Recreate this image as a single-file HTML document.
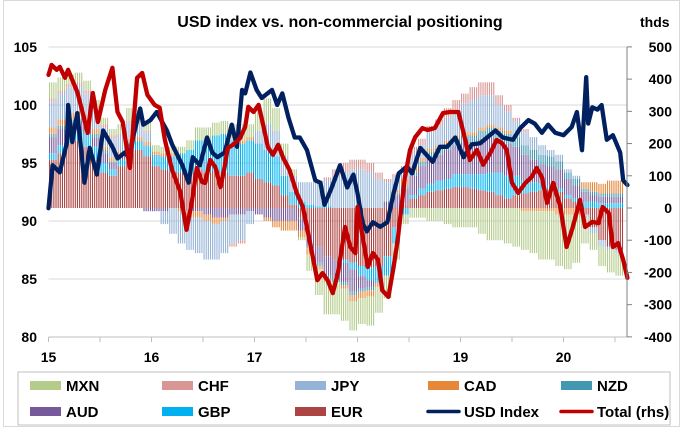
<!DOCTYPE html>
<html><head><meta charset="utf-8"><style>
html,body{margin:0;padding:0;background:#fff;}
svg{display:block;font-family:"Liberation Sans",sans-serif;}
</style></head><body>
<svg id="chart" width="683" height="438" viewBox="0 0 683 438" xmlns="http://www.w3.org/2000/svg">
<rect x="0" y="0" width="683" height="438" fill="#fff"/>
<rect x="3.5" y="0.5" width="676" height="426" fill="none" stroke="#d9d9d9"/>
<text x="340" y="27" text-anchor="middle" font-size="16" font-weight="bold" fill="#000">USD index vs. non-commercial positioning</text>
<text x="640" y="27" font-size="14" font-weight="bold" fill="#000">thds</text>
<g id="grid"></g>
<g id="bars"></g>
<g id="lines"></g>
<g id="axes"></g>
<g>
<rect x="18" y="372" width="652" height="53" fill="#fff" stroke="#bfbfbf"/>
<g font-size="15" font-weight="bold" fill="#000">
<g><rect x="30" y="381" width="31" height="9" fill="#b3cc8c"/><text x="66" y="391">MXN</text></g>
<g><rect x="162" y="381" width="31" height="9" fill="#d99694"/><text x="198" y="391">CHF</text></g>
<g><rect x="295" y="381" width="31" height="9" fill="#95b3d7"/><text x="331" y="391">JPY</text></g>
<g><rect x="428" y="381" width="31" height="9" fill="#e6873a"/><text x="464" y="391">CAD</text></g>
<g><rect x="561" y="381" width="31" height="9" fill="#4198b0"/><text x="597" y="391">NZD</text></g>
<g><rect x="30" y="407" width="31" height="9" fill="#76599a"/><text x="66" y="417">AUD</text></g>
<g><rect x="162" y="407" width="31" height="9" fill="#00b0f0"/><text x="198" y="417">GBP</text></g>
<g><rect x="295" y="407" width="31" height="9" fill="#ab4442"/><text x="331" y="417">EUR</text></g>
<g><line x1="428" y1="411.5" x2="459" y2="411.5" stroke="#002060" stroke-width="3.5" stroke-linecap="round"/><text x="464" y="417">USD Index</text></g>
<g><line x1="561" y1="411.5" x2="592" y2="411.5" stroke="#c00000" stroke-width="3.5" stroke-linecap="round"/><text x="597" y="417">Total (rhs)</text></g>
</g></g>
</svg>
<script>
// monthly positioning data, Jan 2015 .. Jul 2020 (thds)
const EUR=[150,170,200,210,190,150,110,100,130,170,180,160, 130,120,110,110,110,120,110,115,110,100,100,110, 90,80,70,40,10,-30,-80,-120,-150,-160,-160,-170, -180,-185,-180,-150,-60,10,30,40,50,55,60,65, 65,60,55,50,40,30,40,45,50,55,60,50, 30,20,-20,-60,-100,-120,-130];
const GBP=[20,25,25,30,40,40,30,20,20,20,25,30, 30,40,50,60,70,90,100,110,120,110,100,100, 110,100,90,60,40,20,10,5,5,0,-10,-20, -30,-40,-50,-60,-50,-20,10,20,25,30,30,40, 40,45,50,60,70,70,60,40,30,20,10,10, 10,10,20,20,15,15,15];
const AUD=[50,50,40,30,30,30,30,20,10,10,0,-10, -10,-10,0,0,-10,-10,-20,-30,-30,-20,-20,-10, -20,-30,-40,-40,-40,-40,-40,-50,-60,-60,-60,-70, -40,-20,0,20,40,50,60,70,80,80,90,90, 100,100,110,110,100,100,90,80,70,60,60,60, 50,40,30,20,20,20,20];
const NZD=[10,10,10,10,10,10,10,5,5,5,5,5, 5,0,0,0,0,0,0,0,0,0,0,0, 0,0,0,0,0,0,-5,-10,-10,-10,-10,-10, -10,-10,-5,0,5,10,10,15,20,20,20,20, 20,20,25,30,30,30,30,30,30,30,30,25, 20,20,10,10,10,10,10];
const CAD=[20,20,20,20,15,15,10,10,10,10,10,10, 10,10,10,-10,-20,-20,-20,-20,-10,0,10,10, 0,-10,-20,-30,-30,-20,-20,-10,-10,0,-10,-20, -20,-20,-10,0,10,20,20,10,10,10,10,10, 10,10,10,10,10,10,0,-10,-10,-10,-10,-20, -20,-20,20,30,30,40,40];
const JPY=[80,80,80,80,70,60,60,60,50,50,40,30, 0,-40,-80,-100,-100,-110,-120,-110,-100,-90,-80,-40, 40,80,80,60,50,60,70,80,80,100,110,120, 120,110,90,60,40,30,40,40,50,60,70,80, 90,100,100,90,70,60,50,40,40,30,20,20, 10,10,-10,-20,-20,-10,-10];
const CHF=[10,10,10,10,10,10,10,10,5,5,5,5, 0,0,0,0,0,0,0,0,0,-10,-10,0, 0,0,0,0,0,0,0,0,10,20,30,30, 30,30,20,10,10,10,20,20,20,20,30,30, 30,40,40,40,30,20,10,10,0,0,0,0, 0,0,0,0,0,0,0];
const MXN=[50,40,30,30,30,20,20,20,30,40,40,30, 20,20,20,20,30,40,40,40,40,50,50,40, 60,80,70,40,20,-10,-50,-80,-100,-100,-100,-90, -80,-90,-80,-70,-50,-30,-30,-30,-40,-40,-50,-60, -60,-60,-80,-100,-100,-110,-120,-120,-130,-150,-150,-160, -170,-150,-80,-50,-60,-70,-70];

const usdDates=[15.00,15.04,15.11,15.18,15.19,15.23,15.28,15.31,15.35,15.40,15.47,15.53,15.62,15.67,15.74,15.79,15.82,15.89,15.92,15.99,16.05,16.15,16.20,16.30,16.36,16.40,16.47,16.54,16.59,16.64,16.71,16.78,16.83,16.88,16.91,16.96,17.02,17.07,17.17,17.22,17.27,17.33,17.39,17.44,17.51,17.59,17.64,17.68,17.75,17.83,17.90,17.96,18.00,18.05,18.09,18.15,18.22,18.29,18.35,18.40,18.48,18.53,18.61,18.73,18.80,18.87,18.95,19.03,19.11,19.19,19.34,19.41,19.51,19.58,19.66,19.72,19.79,19.85,19.92,20.00,20.08,20.13,20.18,20.22,20.24,20.28,20.33,20.37,20.42,20.48,20.55,20.58,20.62];
const usdValues=[91.1,94.8,94.2,96.8,100.0,96.8,99.3,96.8,93.3,96.3,94.0,97.8,96.4,95.4,95.9,95.4,97.2,99.7,98.3,98.7,99.4,97.8,96.6,94.8,93.3,95.5,94.8,97.2,95.9,95.5,95.9,98.3,96.4,101.3,101.0,102.8,101.3,100.6,101.3,100.0,101.0,98.9,97.2,97.2,96.1,93.5,93.3,91.4,92.9,94.8,92.9,94.0,92.4,89.8,89.1,89.9,89.5,89.9,92.4,94.1,94.7,94.1,96.3,95.1,96.4,96.4,97.2,95.5,96.6,96.7,97.8,97.2,97.0,98.0,98.7,98.4,97.6,98.3,97.6,97.4,98.1,99.4,96.1,102.4,98.4,99.8,99.6,100.0,97.0,97.4,95.9,93.5,93.1];
const totalDates=[15.00,15.03,15.08,15.11,15.16,15.19,15.23,15.28,15.33,15.38,15.43,15.48,15.55,15.62,15.67,15.72,15.79,15.86,15.91,15.96,16.03,16.08,16.13,16.20,16.28,16.34,16.39,16.44,16.49,16.52,16.57,16.62,16.67,16.71,16.74,16.79,16.86,16.91,16.94,16.99,17.04,17.08,17.13,17.18,17.23,17.28,17.34,17.41,17.47,17.54,17.61,17.66,17.71,17.76,17.81,17.88,17.93,17.98,18.00,18.05,18.10,18.15,18.20,18.24,18.30,18.35,18.39,18.46,18.51,18.56,18.63,18.68,18.75,18.83,18.90,18.98,19.04,19.09,19.16,19.22,19.29,19.35,19.40,19.45,19.50,19.56,19.63,19.69,19.74,19.79,19.84,19.90,19.97,20.03,20.09,20.16,20.21,20.28,20.34,20.38,20.44,20.48,20.53,20.58,20.62];
const totalValues=[413,444,429,438,404,429,398,360,298,233,357,267,366,435,298,267,124,404,419,351,320,311,211,118,50,-68,16,124,81,78,149,127,65,127,186,196,217,252,314,298,320,264,189,165,196,155,118,47,3,-109,-224,-202,-224,-264,-202,-59,-121,-140,3,-90,-183,-140,-161,-255,-276,-183,-99,96,180,220,248,242,248,295,298,298,220,149,180,134,171,211,202,180,78,47,78,96,124,96,16,78,3,-121,-59,25,-59,-43,-47,3,-16,-121,-109,-161,-217];

const leftTicks=[105,100,95,90,85,80];
const rightTicks=[500,400,300,200,100,0,-100,-200,-300,-400];
const yearLabels=["15","16","17","18","19","20"];

const NS="http://www.w3.org/2000/svg";
const X0=48.5,PX=103,XR=627;
function xs(d){return X0+(d-15)*PX;}
function yl(v){return 47+(105-v)*11.6;}
function yr(t){return 208-t*0.3222;}
function mk(tag,attrs,parent){const e=document.createElementNS(NS,tag);for(const k in attrs)e.setAttribute(k,attrs[k]);parent.appendChild(e);return e;}

const grid=document.getElementById('grid');
leftTicks.slice(0,5).forEach(v=>{
  const l=mk('line',{x1:X0,x2:XR,y1:yl(v),y2:yl(v),stroke:'#d9d9d9','stroke-width':1},grid);
  
  
});

const series=[
  {name:'eur',data:EUR,color:'#ab4442'},
  {name:'gbp',data:GBP,color:'#00b0f0'},
  {name:'aud',data:AUD,color:'#76599a'},
  {name:'nzd',data:NZD,color:'#4198b0'},
  {name:'cad',data:CAD,color:'#e6873a'},
  {name:'jpy',data:JPY,color:'#95b3d7'},
  {name:'chf',data:CHF,color:'#d99694'},
  {name:'mxn',data:MXN,color:'#b3cc8c'}
];
const bars=document.getElementById('bars');
const nM=EUR.length;
for(let m=0;m<nM;m++){
  let pos=0,neg=0;
  series.forEach(s=>{
    const v=s.data[m];
    let a,b;
    if(v>=0){a=pos;b=pos+v;pos=b;}else{a=neg;b=neg+v;neg=b;}
    const yA=yr(a),yB=yr(b);
    const top=Math.min(yA,yB),h=Math.abs(yA-yB);
    if(h<0.2)return;
    for(let k=0;k<4;k++){
      const d=15+m/12+k/48+1/96;
      const r=mk('rect',{x:(xs(d)-0.55).toFixed(2),y:top.toFixed(2),width:1.1,height:h.toFixed(2),fill:s.color},bars);
      
      
    }
  });
}

const lines=document.getElementById('lines');
function path(dates,vals,yf){return dates.map((d,i)=>(i?'L':'M')+xs(d).toFixed(1)+','+yf(vals[i]).toFixed(1)).join(' ');}
const pu=mk('path',{d:path(usdDates,usdValues,yl),fill:'none',stroke:'#002060','stroke-width':4.3,'stroke-linejoin':'round','stroke-linecap':'round'},lines);


const pt=mk('path',{d:path(totalDates,totalValues,yr),fill:'none',stroke:'#c00000','stroke-width':4.3,'stroke-linejoin':'round','stroke-linecap':'round'},lines);



const axes=document.getElementById('axes');
const xa=mk('line',{x1:X0,x2:XR,y1:337,y2:337,stroke:'#bfbfbf'},axes);


for(let i=0;i<=11;i++){
  const x=xs(15+i/2);
  const t=mk('line',{x1:x,x2:x,y1:337,y2:342,stroke:'#bfbfbf'},axes);
  
  
}
yearLabels.forEach((lab,i)=>{
  const t=mk('text',{x:xs(15+i),y:362,'text-anchor':'middle','font-size':14,'font-weight':'bold',fill:'#000'},axes);
  t.textContent=lab;
  
  
});
leftTicks.forEach(v=>{
  const t=mk('text',{x:37,y:yl(v)+5,'text-anchor':'end','font-size':14,'font-weight':'bold',fill:'#000'},axes);
  t.textContent=v;
  
  
});
const ra=mk('line',{x1:XR,x2:XR,y1:47,y2:337,stroke:'#808080'},axes);


rightTicks.forEach(v=>{
  const tk=mk('line',{x1:XR,x2:XR+5,y1:yr(v),y2:yr(v),stroke:'#808080'},axes);
  
  
  const t=mk('text',{x:672,y:yr(v)+5,'text-anchor':'end','font-size':14,'font-weight':'bold',fill:'#000'},axes);
  t.textContent=v;
  
  
});
</script>
</body></html>
